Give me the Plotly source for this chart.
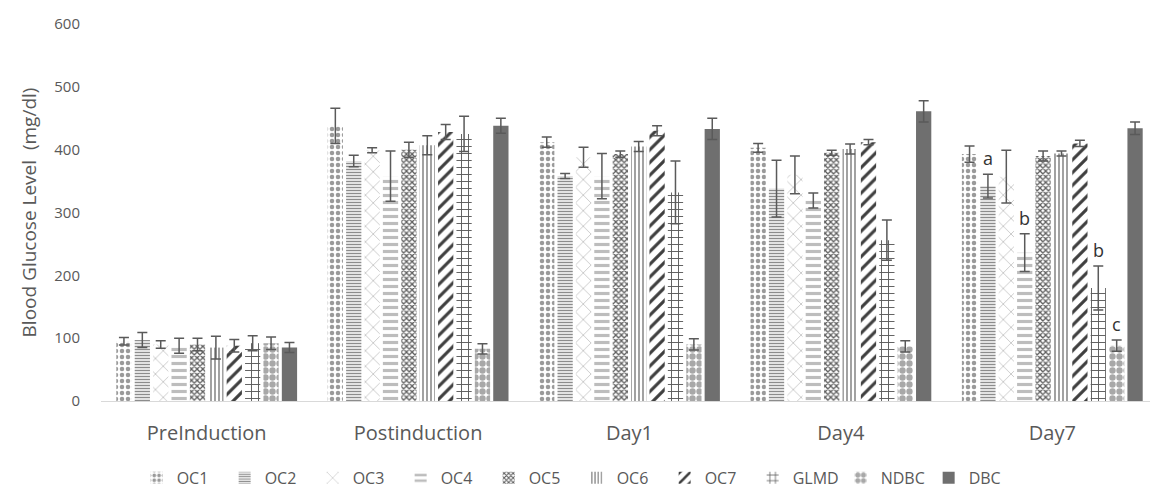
import plotly.graph_objects as go

categories = ["PreInduction", "Postinduction", "Day1", "Day4", "Day7"]
series_names = ["OC1", "OC2", "OC3", "OC4", "OC5", "OC6", "OC7", "GLMD", "NDBC", "DBC"]

OC1 = [95, 438, 412, 403, 393]
OC2 = [97, 382, 358, 338, 342]
OC3 = [90, 399, 388, 360, 357]
OC4 = [88, 358, 358, 319, 236]
OC5 = [90, 400, 393, 395, 390]
OC6 = [85, 407, 405, 401, 394]
OC7 = [88, 428, 430, 412, 410]
GLMD = [92, 425, 332, 256, 180]
NDBC = [92, 83, 90, 87, 88]
DBC = [85, 438, 433, 461, 434]

OC1_err = [6, 28, 8, 7, 13]
OC2_err = [12, 9, 4, 45, 19]
OC3_err = [6, 4, 16, 30, 42]
OC4_err = [12, 40, 36, 12, 30]
OC5_err = [10, 12, 5, 4, 8]
OC6_err = [18, 15, 8, 8, 4]
OC7_err = [10, 12, 8, 4, 5]
GLMD_err = [12, 28, 50, 32, 35]
NDBC_err = [10, 8, 9, 9, 9]
DBC_err = [8, 12, 17, 17, 10]

# significance letters on Day7
sig_series = ["OC2", "OC4", "GLMD", "NDBC"]
sig_letters = ["a", "b", "b", "c"]

values = [OC1, OC2, OC3, OC4, OC5, OC6, OC7, GLMD, NDBC, DBC]
errors = [OC1_err, OC2_err, OC3_err, OC4_err, OC5_err, OC6_err, OC7_err, GLMD_err, NDBC_err, DBC_err]

styles = [
    dict(shape=".", fgcolor="#9a9a9a", size=6, solidity=0.45),
    dict(shape="-", fgcolor="#8c8c8c", size=3, solidity=0.5),
    dict(shape="x", fgcolor="#b5b5b5", size=11, solidity=0.12),
    dict(shape="-", fgcolor="#bdbdbd", size=7, solidity=0.45),
    dict(shape="x", fgcolor="#5f5f5f", size=4, solidity=0.55),
    dict(shape="|", fgcolor="#8a8a8a", size=4, solidity=0.4),
    dict(shape="/", fgcolor="#3f3f3f", size=9, solidity=0.35),
    dict(shape="+", fgcolor="#5a5a5a", size=7, solidity=0.25),
    dict(shape=".", fgcolor="#a8a8a8", size=7, solidity=0.65),
    None,
]

fig = go.Figure()
for name, v, e, st in zip(series_names, values, errors, styles):
    if st is None:
        marker = dict(color="#6f6f6f", line=dict(width=0))
    else:
        marker = dict(color="white", line=dict(width=0),
                      pattern=dict(shape=st["shape"], fgcolor=st["fgcolor"], bgcolor="white",
                                   size=st["size"], solidity=st["solidity"], fillmode="replace"))
    fig.add_trace(go.Bar(
        name=name, x=categories, y=v, marker=marker,
        error_y=dict(type="data", array=e, visible=True, color="#5a5a5a", thickness=1.5, width=5),
    ))

W, H = 1150, 487
bargap = 0.13
plot_left, plot_right = 93, 1150
cat_px = (plot_right - plot_left) / len(categories)
slot = cat_px * (1 - bargap) / len(series_names)

annotations = []
for s, letter in zip(sig_series, sig_letters):
    i = series_names.index(s)
    annotations.append(dict(
        x=categories[-1], y=values[i][-1] + errors[i][-1], xref="x", yref="y",
        text=letter, showarrow=False, yanchor="bottom", yshift=2,
        xshift=(i - (len(series_names) - 1) / 2) * slot,
        font=dict(size=18, color="#333333", family="Open Sans"),
    ))

fig.update_layout(
    width=W, height=H,
    margin=dict(l=plot_left, r=W - plot_right, t=16, b=94, autoexpand=False),
    paper_bgcolor="white", plot_bgcolor="white",
    barmode="group", bargap=bargap, bargroupgap=0.17,
    font=dict(family="Open Sans", size=13, color="#595959"),
    showlegend=True,
    legend=dict(orientation="h", x=0.45, xanchor="center", y=0.035, yref="container", yanchor="middle",
                font=dict(size=16, color="#595959"), itemwidth=30, traceorder="normal",
                entrywidth=43, entrywidthmode="pixels"),
    annotations=annotations,
)
fig.update_xaxes(showline=True, linecolor="#d9d9d9", linewidth=1, showgrid=False,
                 ticks="", ticklabelstandoff=14, tickfont=dict(size=20, color="#595959"))
fig.update_yaxes(range=[0, 600], dtick=100, showgrid=False, zeroline=False, showline=False,
                 ticks="", ticklabelstandoff=20, tickfont=dict(size=15, color="#595959"),
                 title=dict(text="Blood Glucose Level  (mg/dl)", font=dict(size=19, color="#595959"), standoff=12))

fig.write_html("out.html")
